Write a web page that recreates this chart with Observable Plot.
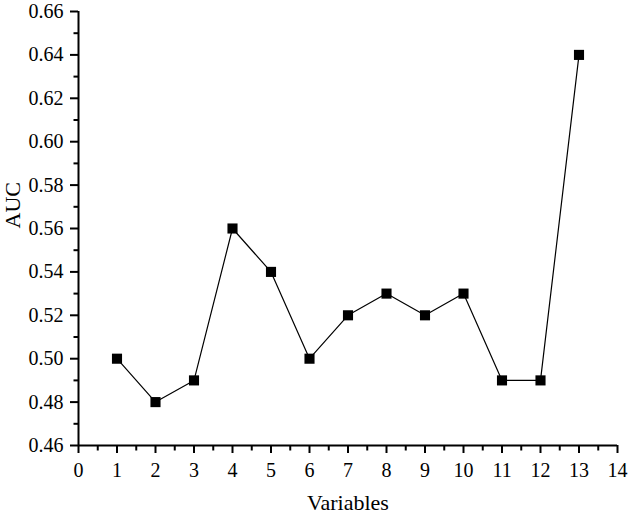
<!DOCTYPE html>
<html>
<head>
<meta charset="utf-8">
<script src="https://cdn.jsdelivr.net/npm/d3@7"></script>
<script src="https://cdn.jsdelivr.net/npm/@observablehq/plot@0.6"></script>
<style>
body { margin: 0; background: #fff; }
</style>
</head>
<body>
<div id="chart"></div>
<script>
const variables = [1, 2, 3, 4, 5, 6, 7, 8, 9, 10, 11, 12, 13];
const auc = [0.50, 0.48, 0.49, 0.56, 0.54, 0.50, 0.52, 0.53, 0.52, 0.53, 0.49, 0.49, 0.64];
const xTicks = [0, 1, 2, 3, 4, 5, 6, 7, 8, 9, 10, 11, 12, 13, 14];
const yTicks = [0.46, 0.48, 0.50, 0.52, 0.54, 0.56, 0.58, 0.60, 0.62, 0.64, 0.66];
const xMinor = [0.5, 1.5, 2.5, 3.5, 4.5, 5.5, 6.5, 7.5, 8.5, 9.5, 10.5, 11.5, 12.5, 13.5];
const yMinor = [0.47, 0.49, 0.51, 0.53, 0.55, 0.57, 0.59, 0.61, 0.63, 0.65];

const data = variables.map((v, i) => ({x: v, y: auc[i]}));
const FF = "Liberation Serif";

// small outward tick symbols for minor ticks
const downTick = {draw(ctx) { ctx.moveTo(0, 0); ctx.lineTo(0, 5); }};
const leftTick = {draw(ctx) { ctx.moveTo(0, 0); ctx.lineTo(-5, 0); }};

const chart = Plot.plot({
  width: 630,
  height: 515,
  marginLeft: 78,
  marginRight: 13,
  marginTop: 11,
  marginBottom: 70,
  style: {color: "#000", background: "#fff", fontFamily: FF, fontSize: "20px"},
  x: {domain: [0, 14]},
  y: {domain: [0.46, 0.66]},
  marks: [
    Plot.axisX({ticks: xTicks, tickSize: 8, tickPadding: 9, tickFormat: d => String(d), fontSize: 20, fontFamily: FF, strokeWidth: 2,
      label: null}),
    Plot.axisY({ticks: yTicks, tickSize: 8, tickPadding: 7, tickFormat: d => d.toFixed(2), fontSize: 20, fontFamily: FF, strokeWidth: 2,
      label: null}),
    Plot.dot(xMinor, {x: d => d, y: () => 0.46, symbol: downTick, stroke: "#000", strokeWidth: 2, fill: "none", clip: false}),
    Plot.dot(yMinor, {x: () => 0, y: d => d, symbol: leftTick, stroke: "#000", strokeWidth: 2, fill: "none", clip: false}),
    Plot.ruleY([0.46], {stroke: "#000", strokeWidth: 2}),
    Plot.ruleX([0], {stroke: "#000", strokeWidth: 2}),
    Plot.text(["Variables"], {frameAnchor: "bottom", dy: 64, fontSize: 22, fontFamily: FF, fill: "#000"}),
    Plot.text(["AUC"], {frameAnchor: "left", dx: -66, rotate: -90, fontSize: 22, fontFamily: FF, fill: "#000"}),
    Plot.line(data, {x: "x", y: "y", stroke: "#000", strokeWidth: 1.2}),
    Plot.dot(data, {x: "x", y: "y", symbol: "square", r: 5.7, fill: "#000", stroke: "none"})
  ]
});
document.getElementById("chart").appendChild(chart);
</script>
</body>
</html>
